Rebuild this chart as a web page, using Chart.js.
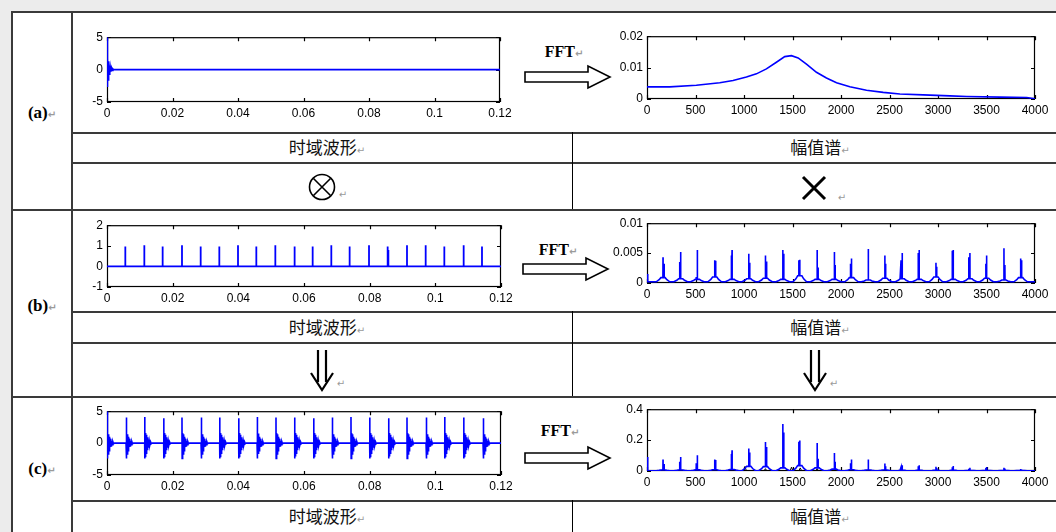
<!DOCTYPE html>
<html>
<head>
<meta charset="utf-8">
<script src="https://cdn.jsdelivr.net/npm/chart.js@4.4.0/dist/chart.umd.min.js"></script>
<style>
  body { margin: 0; width: 1056px; height: 532px; overflow: hidden; position: relative; background: #ececec; }
  #sheet { position: absolute; left: 11px; top: 11px; width: 1045px; height: 521px; background: #fff; }
  .ln { position: absolute; background: #3a3a3a; }
  .txt { position: absolute; transform: translate(-50%, -50%); white-space: nowrap; line-height: 1; }
  .cn { font-family: "Noto Sans CJK SC"; font-size: 17px; color: #111; }
  .lab { font-family: "Liberation Serif"; font-weight: bold; font-size: 17px; color: #000; }
  .fft { font-family: "Liberation Serif"; font-weight: bold; font-size: 16px; color: #000; }
  .mk { color: #9a9a9a; font-size: 10px; font-family: "DejaVu Sans"; }
  svg { position: absolute; left: 0; top: 0; }
</style>
</head>
<body>
<div id="sheet"></div>
<div id="deco"></div>
<svg width="1056" height="532">
  <!-- FFT arrows -->
  <polygon points="525,72 588,72 588,66 610,77 588,88 588,82 525,82" fill="#fff" stroke="#000" stroke-width="1.6"/>
  <polygon points="523,264 586,264 586,258 608,269 586,280 586,274 523,274" fill="#fff" stroke="#000" stroke-width="1.6"/>
  <polygon points="525,453 588,453 588,447 610,458 588,469 588,463 525,463" fill="#fff" stroke="#000" stroke-width="1.6"/>
  <!-- double down arrows -->
  <path d="M318 350 V382 M326 350 V382 M311 373 L322 390 L333 373" fill="none" stroke="#000" stroke-width="2.2"/>
  <path d="M811 350 V382 M819 350 V382 M804 373 L815 390 L826 373" fill="none" stroke="#000" stroke-width="2.2"/>
  <!-- multiplication sign -->
  <path d="M803 177 L825 199 M825 177 L803 199" stroke="#000" stroke-width="3"/>
  <circle cx="322" cy="187" r="12.5" fill="none" stroke="#000" stroke-width="1.6"/>
  <path d="M313.5 178.5 L330.5 195.5 M330.5 178.5 L313.5 195.5" stroke="#000" stroke-width="1.6"/>
</svg>

<script>
// ---------- data ----------
// (a) time waveform: single damped ring at t = 0
const waveA_t = [0, 0, 0.00005, 0.0001, 0.00015, 0.0002, 0.00025, 0.0003, 0.00035, 0.0004, 0.00045, 0.0005, 0.00055, 0.0006, 0.0007, 0.0008, 0.0009, 0.001, 0.0012, 0.0014, 0.0016, 0.0018, 0.002, 0.12];
const waveA_v = [0, 5, -2.7, 1.6, -2.4, 1.5, -2.0, 1.7, -1.6, 1.3, -1.3, 1.0, -1.0, 0.8, -0.7, 0.6, -0.5, 0.4, -0.3, 0.25, -0.15, 0.1, 0, 0];

// (a) amplitude spectrum
const specA_f = [0, 234, 509, 750, 887, 1025, 1128, 1231, 1334, 1420, 1489, 1558, 1644, 1747, 1850, 1954, 2091, 2263, 2435, 2607, 2848, 3123, 3295, 3639, 3914, 4000];
const specA_v = [0.00385, 0.00385, 0.0044, 0.0052, 0.0059, 0.007, 0.008, 0.0096, 0.0117, 0.0135, 0.0138, 0.0131, 0.0111, 0.0085, 0.0067, 0.0052, 0.0039, 0.0028, 0.0021, 0.0016, 0.0013, 0.001, 0.0008, 0.0006, 0.0005, 0.0001];

// (b) impulse train
const impB_t = [0.00558, 0.01137, 0.01695, 0.02284, 0.02843, 0.03421, 0.0399, 0.04548, 0.05127, 0.05706, 0.06264, 0.06832, 0.0739, 0.0798, 0.08548, 0.09137, 0.09706, 0.10274, 0.10863, 0.11421];
const impB_v = [0.97, 1.03, 0.97, 1.03, 0.97, 0.97, 1.03, 0.97, 1.03, 0.97, 0.97, 1.03, 0.97, 1.03, 0.97, 1.03, 1.03, 0.97, 1.03, 0.97];
const dblB_t = [0.0286, 0.0572, 0.0857];
const dblB_v = [0.95, 0.95, 0.8];

// harmonic lines (Hz), shared by (b) and (c) spectra
const harmF = [165, 347, 519, 698, 877, 1049, 1221, 1400, 1575, 1754, 1929, 2108, 2280, 2452, 2631, 2806, 2979, 3157, 3329, 3501, 3680, 3852];
const sideF = [177, 337, 507, 708, 867, 1059, 1233, 1410, 1565, 1764, 1939, 2098, 2283, 2460, 2619, 2796, 2987, 3147, 3317, 3493, 3690, 3862];

// (b) spectrum
const specB_peak = [0.0043, 0.0052, 0.0055, 0.0038, 0.0055, 0.0049, 0.0046, 0.0055, 0.0039, 0.0055, 0.0052, 0.0041, 0.0057, 0.0046, 0.005, 0.0055, 0.0034, 0.0055, 0.005, 0.0046, 0.0058, 0.0041];
const specB_side = [0.0032, 0.0035, 0.001, 0.0037, 0.0046, 0.0034, 0.0036, 0.0049, 0.0038, 0.0026, 0.003, 0.0032, 0.002, 0.0032, 0.0038, 0.005, 0.0027, 0.0054, 0.0043, 0.0032, 0.003, 0.0038];
const specB_bump = [0.0009, 0.0007, 0.0006, 0.001, 0.0006, 0.0007, 0.0008, 0.0006, 0.0012, 0.0006, 0.0006, 0.0009, 0.0005, 0.0008, 0.0007, 0.0006, 0.001, 0.0006, 0.0007, 0.0008, 0.0005, 0.0009];
const specB_dc = 0.0015, specB_floor = 0.0002;

// (c) time waveform: ring repeated at each impulse
const burstC_t = [0, 0.00579, 0.01147, 0.01726, 0.02284, 0.02863, 0.03431, 0.0401, 0.04569, 0.05147, 0.05716, 0.06294, 0.06853, 0.07431, 0.08, 0.08579, 0.09137, 0.09716, 0.10284, 0.10863, 0.11452];
const burstC_top = [5, 4.0, 4.1, 3.9, 4.0, 4.0, 4.0, 3.9, 4.1, 4.0, 4.0, 3.9, 4.0, 4.1, 4.0, 3.9, 4.0, 4.0, 4.1, 4.0, 3.9];
const ringC_dt = [0.00005, 0.0001, 0.00015, 0.0002, 0.00025, 0.0003, 0.00035, 0.0004, 0.00045, 0.0005, 0.00055, 0.0006, 0.00065, 0.0007, 0.00075, 0.0008, 0.0009, 0.001, 0.0011, 0.0012, 0.0013, 0.0014, 0.0016, 0.0018, 0.002, 0.0023];
const ringC_v = [-2.4, 1.5, -2.1, 1.6, -1.9, 1.5, -1.7, 1.4, -1.6, 1.3, -1.4, 1.2, -1.2, 1.0, -1.0, 0.9, -0.8, 0.7, -0.6, 0.5, -0.4, 0.35, -0.25, 0.2, -0.1, 0];

// (c) spectrum
const specC_peak = [0.074, 0.091, 0.102, 0.074, 0.134, 0.145, 0.187, 0.304, 0.198, 0.181, 0.117, 0.074, 0.074, 0.049, 0.038, 0.038, 0.028, 0.032, 0.021, 0.026, 0.021, 0.013];
const specC_side = [0.045, 0.06, 0.05, 0.072, 0.11, 0.12, 0.155, 0.25, 0.19, 0.08, 0.06, 0.05, 0.04, 0.03, 0.025, 0.03, 0.02, 0.025, 0.015, 0.02, 0.015, 0.01];
const specC_bump = [0.006, 0.006, 0.007, 0.008, 0.01, 0.03, 0.028, 0.02, 0.035, 0.02, 0.012, 0.008, 0.006, 0.006, 0.005, 0.005, 0.004, 0.004, 0.003, 0.003, 0.003, 0.003];
const specC_dc = 0.09, specC_floor = 0.002;
const triC_f = [165, 519, 1010, 1221, 1490, 1580, 1754, 2108, 2452, 2631];
const triC_v = [0.012, 0.012, 0.03, 0.015, 0.025, 0.02, 0.015, 0.012, 0.012, 0.012];

// axis ticks
const timeTicks = [0, 0.02, 0.04, 0.06, 0.08, 0.1, 0.12];
const freqTicks = [0, 500, 1000, 1500, 2000, 2500, 3000, 3500, 4000];

// ---------- build point lists ----------
const zip = (xs, ys) => xs.map((x, i) => ({ x, y: ys[i] }));

function spikeTrain(ts, vs, tEnd) {
  const pts = [{ x: 0, y: 0 }];
  ts.map((t, i) => [t, vs[i]]).sort((p, q) => p[0] - q[0])
    .forEach(([t, v]) => pts.push({ x: t, y: 0 }, { x: t, y: v }, { x: t, y: 0 }));
  pts.push({ x: tEnd, y: 0 });
  return pts;
}

function burstTrain(ts, tops, dts, vs, tEnd) {
  const pts = [];
  ts.forEach((t, i) => {
    pts.push({ x: t, y: 0 }, { x: t, y: tops[i] });
    dts.forEach((d, j) => pts.push({ x: t + d, y: vs[j] }));
  });
  pts.push({ x: tEnd, y: 0 });
  return pts;
}

function lineSpectrum(dc, floor, fs, peaks, sfs, sides, bumps, fEnd) {
  const pts = [{ x: 0, y: dc }, { x: 6, y: dc }, { x: 9, y: floor }];
  fs.forEach((f, i) => {
    const b = bumps[i];
    pts.push({ x: f - 70, y: floor }, { x: f - 40, y: (floor + b) / 2 }, { x: f - 22, y: b });
    [[f, peaks[i]], [sfs[i], sides[i]]].sort((p, q) => p[0] - q[0])
      .forEach(([px, py]) => pts.push({ x: px - 1, y: b }, { x: px, y: py }, { x: px + 1, y: b }));
    pts.push({ x: f + 22, y: b }, { x: f + 40, y: (floor + b) / 2 }, { x: f + 70, y: floor });
  });
  pts.push({ x: fEnd, y: floor });
  return pts;
}

function triangles(fs, vs, fEnd) {
  const pts = [{ x: 0, y: 0 }];
  fs.forEach((f, i) => pts.push({ x: f - 15, y: 0 }, { x: f, y: vs[i] }, { x: f + 15, y: 0 }));
  pts.push({ x: fEnd, y: 0 });
  return pts;
}

// ---------- chart plumbing ----------
Chart.defaults.font.family = '"Liberation Sans", Arial, sans-serif';
Chart.defaults.font.size = 12;
Chart.defaults.color = '#000';

const PAD_L = 45, PAD_T = 10, PAD_R = 25, PAD_B = 22;
const fmt = v => String(+(+v).toFixed(5));

// MATLAB-like box with inward ticks
const boxTicks = {
  id: 'boxTicks',
  beforeDatasetsDraw(chart) {
    const { ctx, chartArea: a, scales: { x, y } } = chart;
    ctx.save();
    ctx.strokeStyle = '#000';
    ctx.lineWidth = 1.2;
    ctx.strokeRect(a.left + 0.5, a.top + 0.5, a.width - 1, a.height - 1);
    ctx.beginPath();
    x.ticks.forEach(t => {
      const px = Math.round(x.getPixelForValue(t.value)) + 0.5;
      ctx.moveTo(px, a.bottom); ctx.lineTo(px, a.bottom - 4);
      ctx.moveTo(px, a.top); ctx.lineTo(px, a.top + 4);
    });
    y.ticks.forEach(t => {
      const py = Math.round(y.getPixelForValue(t.value)) + 0.5;
      ctx.moveTo(a.left, py); ctx.lineTo(a.left + 4, py);
      ctx.moveTo(a.right, py); ctx.lineTo(a.right - 4, py);
    });
    ctx.stroke();
    ctx.restore();
  }
};

function makeChart(box, xTicks, yTicks, datasets) {
  const w = box.r - box.l + PAD_L + PAD_R, h = box.b - box.t + PAD_T + PAD_B;
  const cv = document.createElement('canvas');
  cv.width = w; cv.height = h;
  cv.style.cssText = `position:absolute;left:${box.l - PAD_L}px;top:${box.t - PAD_T}px;width:${w}px;height:${h}px`;
  document.body.appendChild(cv);
  const axis = (ticks, pad, size) => ({
    type: 'linear',
    min: ticks[0],
    max: ticks[ticks.length - 1],
    afterBuildTicks: s => { s.ticks = ticks.map(v => ({ value: v })); },
    afterFit: size,
    grid: { display: false, drawTicks: false },
    border: { display: false },
    ticks: { callback: fmt, padding: pad, maxRotation: 0, autoSkip: false, color: '#000' }
  });
  return new Chart(cv, {
    type: 'line',
    data: {
      datasets: datasets.map(d => ({
        data: d.data,
        borderColor: d.color || '#0000ff',
        borderWidth: d.width || 1.5,
        pointRadius: 0,
        tension: 0,
        fill: false
      }))
    },
    options: {
      responsive: false,
      animation: false,
      events: [],
      layout: { padding: { left: 0, top: PAD_T, right: PAD_R, bottom: 0 } },
      plugins: { legend: { display: false }, tooltip: { enabled: false } },
      scales: {
        x: axis(xTicks, 4, s => { s.height = PAD_B; }),
        y: axis(yTicks, 4, s => { s.width = PAD_L; })
      }
    },
    plugins: [boxTicks]
  });
}

// ---------- the six panels ----------
makeChart({ l: 107, t: 36, r: 500, b: 102 }, timeTicks, [-5, 0, 5],
  [{ data: zip(waveA_t, waveA_v), width: 1.6 }]);
makeChart({ l: 647, t: 35, r: 1035, b: 99 }, freqTicks, [0, 0.01, 0.02],
  [{ data: zip(specA_f, specA_v), width: 1.6 }]);

makeChart({ l: 107, t: 224, r: 501, b: 287 }, timeTicks, [-1, 0, 1, 2],
  [{ data: spikeTrain(impB_t.concat(dblB_t), impB_v.concat(dblB_v), 0.12), width: 1.8 }]);
makeChart({ l: 647, t: 222, r: 1035, b: 283 }, freqTicks, [0, 0.005, 0.01],
  [{ data: lineSpectrum(specB_dc, specB_floor, harmF, specB_peak, sideF, specB_side, specB_bump, 4000), width: 1.6 }]);

makeChart({ l: 107, t: 410, r: 501, b: 475 }, timeTicks, [-5, 0, 5],
  [{ data: burstTrain(burstC_t, burstC_top, ringC_dt, ringC_v, 0.12), width: 1.6 }]);
makeChart({ l: 647, t: 408, r: 1035, b: 471 }, freqTicks, [0, 0.2, 0.4],
  [{ data: lineSpectrum(specC_dc, specC_floor, harmF, specC_peak, sideF, specC_side, specC_bump, 4000), width: 1.6 },
   { data: triangles(triC_f, triC_v, 4000), color: '#000', width: 1 }]);

// ---------- table frame and texts ----------
const deco = document.getElementById('deco');
function line(x, y, w, h, color) {
  const d = document.createElement('div');
  d.className = 'ln';
  d.style.cssText = `left:${x}px;top:${y}px;width:${w}px;height:${h}px` + (color ? `;background:${color}` : '');
  deco.appendChild(d);
}
function text(cls, str, x, y, mark) {
  const d = document.createElement('div');
  d.className = 'txt ' + cls;
  d.style.left = x + 'px'; d.style.top = y + 'px';
  d.textContent = str;
  if (mark) {
    const m = document.createElement('span');
    m.className = 'mk';
    m.textContent = '↵';
    d.appendChild(m);
  }
  deco.appendChild(d);
}

line(11, 11, 1045, 2);
line(11, 11, 2, 521);
line(71, 11, 2, 521);
[132, 162, 311, 342, 500].forEach(y => line(71, y, 985, 2));
[209, 396].forEach(y => line(11, y, 1045, 2));
line(572, 132, 1, 77, '#000');
line(572, 311, 1, 85, '#000');
line(572, 500, 1, 32, '#000');

const rowLabels = ['(a)', '(b)', '(c)'];
const rowLabelY = [112, 305, 468];
rowLabels.forEach((s, i) => text('lab', s, 42, rowLabelY[i], true));

const captionY = [147, 327, 516];
captionY.forEach(y => {
  text('cn', '时域波形', 327, y, true);
  text('cn', '幅值谱', 820, y, true);
});

const fftPos = [[564, 52], [558, 250], [560, 431]];
fftPos.forEach(([x, y]) => text('fft', 'FFT', x, y, true));

text('mk', '↵', 343, 195);
text('mk', '↵', 842, 198);
text('mk', '↵', 341, 384);
text('mk', '↵', 834, 384);
</script>
</body>
</html>
